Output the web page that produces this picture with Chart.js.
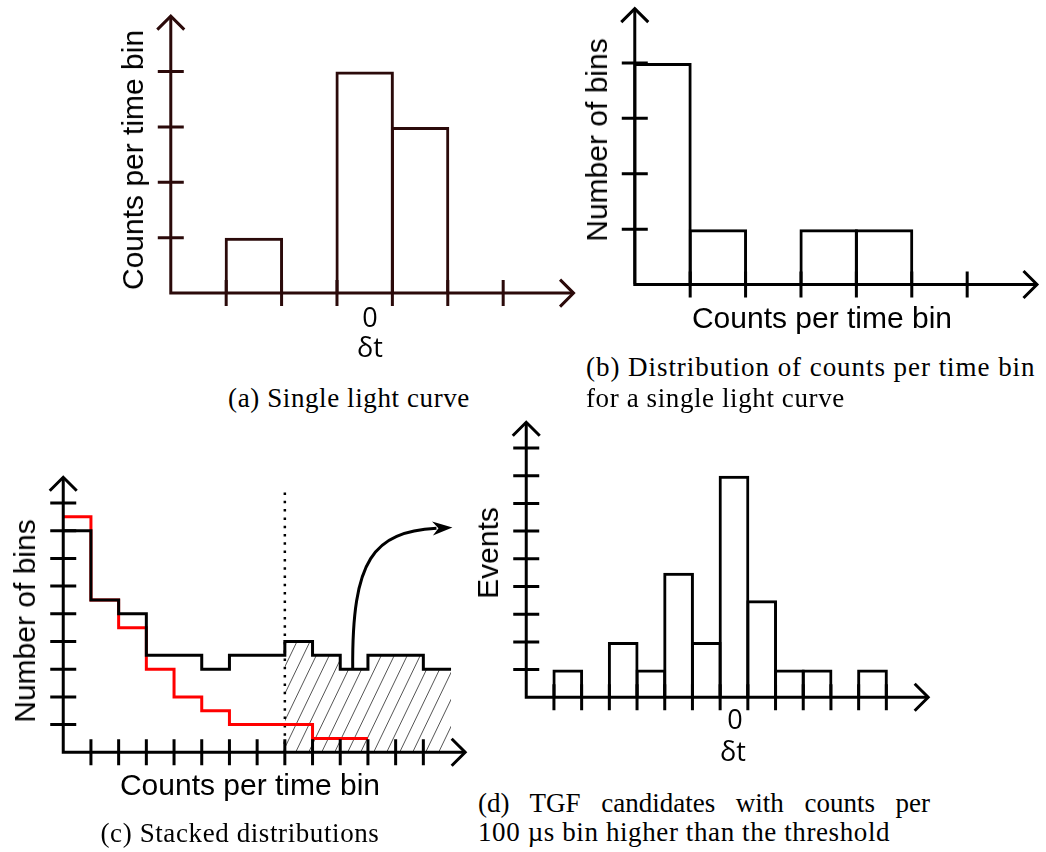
<!DOCTYPE html>
<html>
<head>
<meta charset="utf-8">
<script src="https://cdn.jsdelivr.net/npm/chart.js"></script>
<style>
  body { margin:0; background:#fff; width:1046px; height:852px; position:relative; overflow:hidden; }
  canvas { position:absolute; }
  .t { position:absolute; z-index:2; white-space:nowrap; line-height:1; color:#000;
       font-family:'Liberation Sans', Arial, sans-serif; font-size:30px; transform:translate(-50%,-50%); }
  .r { transform:translate(-50%,-50%) rotate(-90deg); }
  .z { font-family:'Open Sans', sans-serif; font-size:27px; }
  .cap { position:absolute; z-index:2; white-space:nowrap; line-height:1; color:#000;
         font-family:'Liberation Serif', 'Times New Roman', serif; font-size:27px; letter-spacing:0.6px; }
</style>
</head>
<body>
<canvas id="chartA"></canvas>
<canvas id="chartB"></canvas>
<canvas id="chartC"></canvas>
<canvas id="chartD"></canvas>

<div class="t r" style="left:133px;top:160px">Counts per time bin</div>
<div class="t z" style="left:370px;top:316px">0</div>
<div class="t z" style="left:370px;top:346px">δt</div>
<div class="cap" style="left:349px;top:398px;transform:translate(-50%,-50%)">(a) Single light curve</div>

<div class="t r" style="left:597px;top:140px">Number of bins</div>
<div class="t" style="left:822px;top:318px">Counts per time bin</div>
<div class="cap" style="left:586px;top:367px;transform:translateY(-50%);letter-spacing:0.95px">(b) Distribution of counts per time bin</div>
<div class="cap" style="left:586px;top:398px;transform:translateY(-50%)">for a single light curve</div>

<div class="t r" style="left:25px;top:621px">Number of bins</div>
<div class="t" style="left:250px;top:785px">Counts per time bin</div>
<div class="cap" style="left:240px;top:833px;transform:translate(-50%,-50%)">(c) Stacked distributions</div>

<div class="t r" style="left:488px;top:553px">Events</div>
<div class="t z" style="left:735px;top:718px">0</div>
<div class="t z" style="left:733px;top:750px">δt</div>
<div class="cap" style="left:478px;top:803px;width:452px;transform:translateY(-50%);text-align:justify;text-align-last:justify;letter-spacing:0">(d) TGF candidates with counts per</div>
<div class="cap" style="left:478px;top:832px;transform:translateY(-50%)">100 µs bin higher than the threshold</div>

<script>
/* (a) single light curve: counts per δt bin */
const lightCurveBins   = [1.5, 3.5, 4.5];
const lightCurveCounts = [1, 4, 3];
const lightCurveXTicks = [1, 2, 3, 4, 5, 6];
const lightCurveYTicks = [1, 2, 3, 4];

/* (b) distribution of counts per time bin */
const distBins   = [0.5, 1.5, 3.5, 4.5];
const distCounts = [4, 1, 1, 1];
const distXTicks = [1, 2, 3, 4, 5, 6];
const distYTicks = [1, 2, 3, 4];

/* (c) stacked distributions, step outlines (value per bin edge, last repeated) */
const stackedEdges  = [0, 1, 2, 3, 4, 5, 6, 7, 8, 9, 10, 11, 12, 13, 14];
const stackedAll    = [8, 5.5, 5, 3.5, 3.5, 3, 3.5, 3.5, 4, 3.5, 3, 3.5, 3.5, 3, 3];
const singleEdges   = [0, 1, 2, 3, 4, 5, 6, 7, 8, 9, 10, 11];
const singleCounts  = [8.5, 5.5, 4.5, 3, 2, 1.5, 1, 1, 1, 0.5, 0.5, 0.5];
const threshold     = 8;
const thresholdTop  = 9.45;
const stackedXTicks = [1, 2, 3, 4, 5, 6, 7, 8, 9, 10, 11, 12, 13];
const stackedYTicks = [1, 2, 3, 4, 5, 6, 7, 8, 9];

/* (d) TGF candidates per δt bin */
const tgfBins   = [1.5, 3.5, 4.5, 5.5, 6.5, 7.5, 8.5, 9.5, 10.5, 12.5];
const tgfEvents = [1, 2, 1, 4.5, 2, 8, 3.5, 1, 1, 1];
const tgfXTicks = [1, 2, 3, 4, 5, 6, 7, 8, 9, 10, 11, 12, 13];
const tgfYTicks = [1, 2, 3, 4, 5, 6, 7, 8, 9];

const LW = 3;

// axis lines with open arrow heads and ticks crossing the axis
const axesPlugin = {
  id: 'axes',
  afterDatasetsDraw(chart, args, o) {
    const { ctx } = chart, x = chart.scales.x, y = chart.scales.y;
    const x0 = x.getPixelForValue(0), y0 = y.getPixelForValue(0);
    const xt = x.getPixelForValue(o.xTip), yt = y.getPixelForValue(o.yTip);
    ctx.save();
    ctx.strokeStyle = o.color; ctx.lineWidth = LW; ctx.lineCap = 'butt'; ctx.lineJoin = 'miter';
    ctx.beginPath();
    ctx.moveTo(x0, yt); ctx.lineTo(x0, y0); ctx.lineTo(xt, y0);
    o.xTicks.forEach(v => { const p = x.getPixelForValue(v); ctx.moveTo(p, y0 - o.tick); ctx.lineTo(p, y0 + o.tick); });
    o.yTicks.forEach(v => { const p = y.getPixelForValue(v); ctx.moveTo(x0 - o.tick, p); ctx.lineTo(x0 + o.tick, p); });
    ctx.stroke();
    ctx.beginPath();
    ctx.moveTo(x0 - o.arm, yt + o.arm); ctx.lineTo(x0, yt); ctx.lineTo(x0 + o.arm, yt + o.arm);
    ctx.moveTo(xt - o.arm, y0 - o.arm); ctx.lineTo(xt, y0); ctx.lineTo(xt - o.arm, y0 + o.arm);
    ctx.stroke();
    ctx.restore();
  }
};

// curved arrow from the hatched tail towards panel (d)
const curvedArrowPlugin = {
  id: 'curvedArrow',
  afterDatasetsDraw(chart, args, o) {
    if (!o.from) return;
    const { ctx } = chart, x = chart.scales.x, y = chart.scales.y;
    const P = p => [x.getPixelForValue(p[0]), y.getPixelForValue(p[1])];
    const a = P(o.from), b = P(o.c1), c = P(o.c2), d = P(o.to);
    const ang = Math.atan2(d[1] - c[1], d[0] - c[0]);
    const len = 20, half = 7;
    const back = [d[0] - Math.cos(ang) * (len - 4), d[1] - Math.sin(ang) * (len - 4)];
    ctx.save();
    ctx.strokeStyle = '#000'; ctx.lineWidth = LW;
    ctx.beginPath();
    ctx.moveTo(a[0], a[1]);
    ctx.bezierCurveTo(b[0], b[1], c[0], c[1], back[0], back[1]);
    ctx.stroke();
    ctx.translate(d[0], d[1]); ctx.rotate(ang);
    ctx.fillStyle = '#000';
    ctx.beginPath();
    ctx.moveTo(0, 0); ctx.lineTo(-len, -half); ctx.lineTo(-len + 6, 0); ctx.lineTo(-len, half);
    ctx.closePath(); ctx.fill();
    ctx.restore();
  }
};

function place(id, g) {
  const el = document.getElementById(id);
  const w = Math.round((g.xmax - g.xmin) * g.unit), h = Math.round((g.ymax - g.ymin) * g.unit);
  el.width = w; el.height = h;
  el.style.width = w + 'px'; el.style.height = h + 'px';
  el.style.left = (g.ox + g.xmin * g.unit) + 'px';
  el.style.top = (g.oy - g.ymax * g.unit) + 'px';
  return {
    x: { type: 'linear', display: false, offset: false, min: g.xmin, max: g.xmin + w / g.unit },
    y: { type: 'linear', display: false, offset: false, min: g.ymax - h / g.unit, max: g.ymax }
  };
}

function baseOptions(scales, axes, extra) {
  return {
    responsive: false, animation: false, events: [],
    layout: { padding: 0 },
    scales,
    plugins: Object.assign({ legend: { display: false }, tooltip: { enabled: false }, axes }, extra || {})
  };
}

function histogram(id, g, bins, counts, color, xTicks, yTicks, xTip, yTip) {
  const scales = place(id, g);
  return new Chart(document.getElementById(id), {
    type: 'bar',
    data: {
      datasets: [{
        data: bins.map((b, i) => ({ x: b, y: counts[i] })),
        borderColor: color,
        backgroundColor: 'rgba(0,0,0,0)',
        borderWidth: LW,
        borderSkipped: 'start',
        barThickness: g.unit + LW,
        inflateAmount: 0
      }]
    },
    options: baseOptions(scales, { color, xTicks, yTicks, xTip, yTip, tick: 13, arm: 13.5 }),
    plugins: [axesPlugin]
  });
}

function hatchPattern() {
  const w = 13, h = 27;
  const c = document.createElement('canvas'); c.width = w; c.height = h;
  const g = c.getContext('2d');
  g.strokeStyle = '#555'; g.lineWidth = 1;
  g.beginPath();
  [-1, 0, 1].forEach(k => { g.moveTo(k * w, h); g.lineTo(k * w + w, 0); });
  g.stroke();
  return g.createPattern(c, 'repeat');
}

const geoA = { ox: 171, oy: 293, unit: 55.4, xmin: -0.7, xmax: 7.6, ymin: -0.5, ymax: 5.2 };
const geoB = { ox: 635, oy: 285, unit: 55.4, xmin: -0.7, xmax: 7.6, ymin: -0.5, ymax: 5.1 };
const geoC = { ox: 63,  oy: 752, unit: 27.7, xmin: -1.2, xmax: 15,  ymin: -1,   ymax: 10.3 };
const geoD = { ox: 526, oy: 697, unit: 27.7, xmin: -1.2, xmax: 15,  ymin: -1,   ymax: 10.3 };

histogram('chartA', geoA, lightCurveBins, lightCurveCounts, '#2b0a0a', lightCurveXTicks, lightCurveYTicks, 7.27, 5.0);
histogram('chartB', geoB, distBins, distCounts, '#000', distXTicks, distYTicks, 7.26, 4.98);
histogram('chartD', geoD, tgfBins, tgfEvents, '#000', tgfXTicks, tgfYTicks, 14.51, 9.93);

// (c) stacked distributions
const scalesC = place('chartC', geoC);
const tailEdges = stackedEdges.filter(e => e >= threshold);
const stepLine = { pointRadius: 0, fill: false, stepped: true, borderWidth: LW, borderCapStyle: 'butt', borderJoinStyle: 'miter' };
new Chart(document.getElementById('chartC'), {
  type: 'line',
  data: {
    datasets: [
      Object.assign({}, stepLine, { data: stackedEdges.map((e, i) => ({ x: e, y: stackedAll[i] })), borderColor: '#000', order: 0 }),
      Object.assign({}, stepLine, { data: singleEdges.map((e, i) => ({ x: e, y: singleCounts[i] })), borderColor: '#ff0000', order: 1 }),
      { data: tailEdges.map(e => ({ x: e, y: stackedAll[stackedEdges.indexOf(e)] })), stepped: true, pointRadius: 0,
        borderWidth: 1, borderColor: 'rgba(0,0,0,0)', backgroundColor: hatchPattern(), fill: 'origin', order: 3 },
      { data: [{ x: threshold, y: 0 }, { x: threshold, y: thresholdTop }], pointRadius: 0, fill: false,
        borderColor: '#000', borderWidth: 2.5, borderDash: [2.5, 5.8], borderCapStyle: 'butt', order: 2 }
    ]
  },
  options: baseOptions(scalesC,
    { color: '#000', xTicks: stackedXTicks, yTicks: stackedYTicks, xTip: 14.51, yTip: 9.93, tick: 13, arm: 13.5 },
    { curvedArrow: { from: [10.45, 3.0], c1: [10.42, 7.0], c2: [11.2, 7.95], to: [14.05, 8.12] } }),
  plugins: [axesPlugin, curvedArrowPlugin]
});
</script>
</body>
</html>
